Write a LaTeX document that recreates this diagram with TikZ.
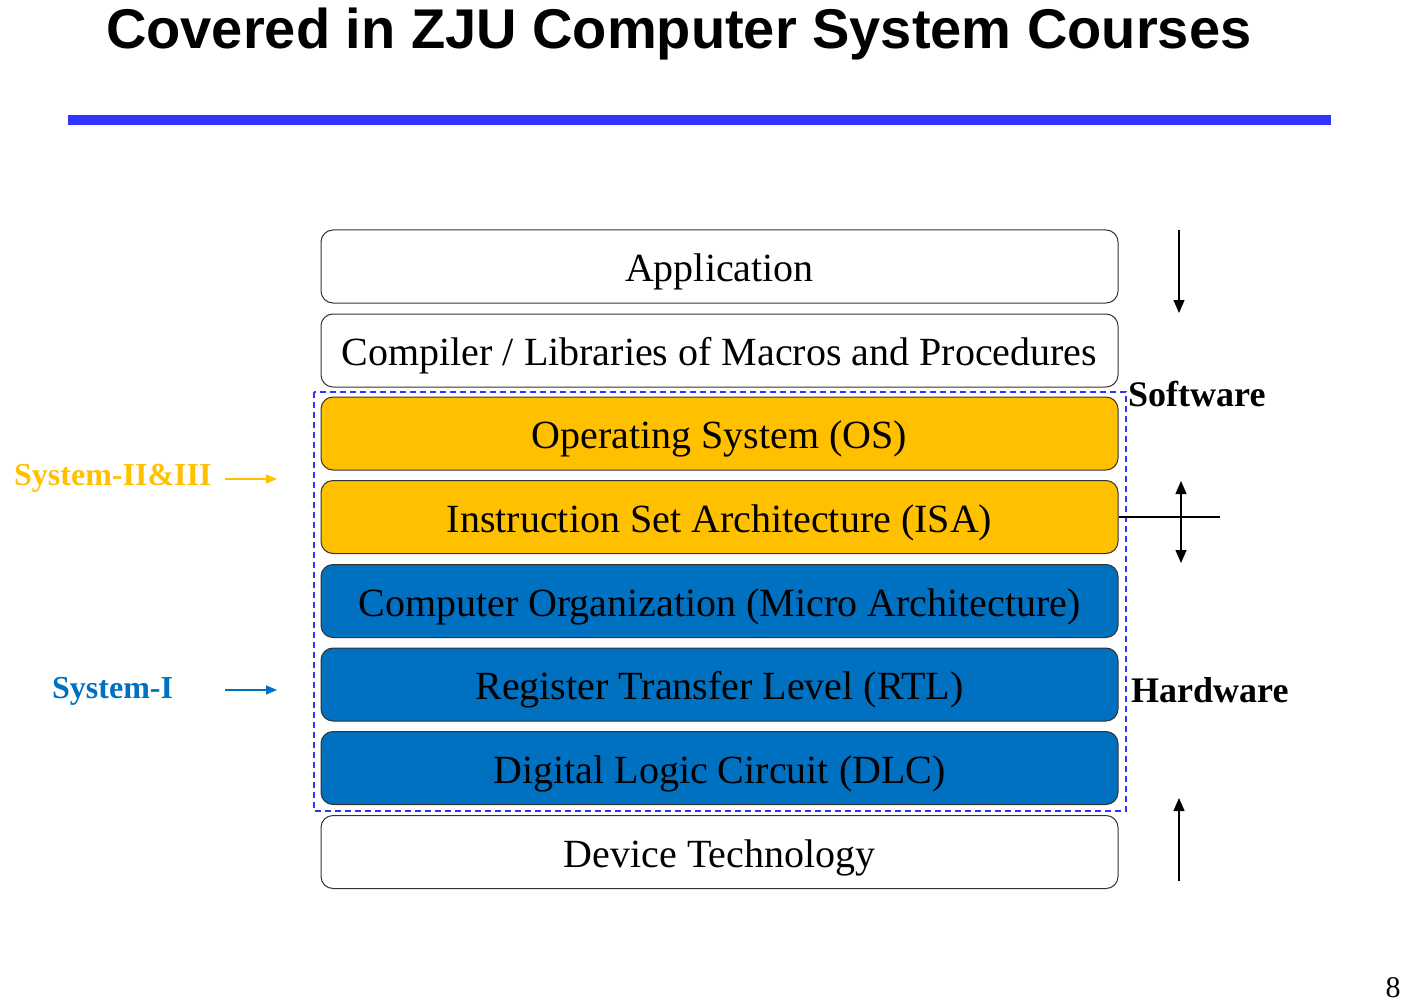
\documentclass[tikz,border=0pt]{standalone}
\usepackage{fontspec}
\setmainfont{Liberation Serif}
\newfontfamily\titlefont{Liberation Sans}
\usetikzlibrary{arrows.meta}
\definecolor{layerorange}{RGB}{255,192,0}
\definecolor{layerblue}{RGB}{0,112,192}
\definecolor{rulecolor}{RGB}{51,51,255}
\begin{document}
\begin{tikzpicture}[x=1pt,y=-1pt,
  layer/.style={draw=black!80, line width=1pt, rounded corners=12pt,
    minimum width=797pt, minimum height=73pt, inner sep=0pt,
    text height=31pt, text depth=1pt,
    font=\fontsize{40}{42}\selectfont},
  plain/.style={layer, fill=white},
  sysab/.style={layer, fill=layerorange},
  sysc/.style={layer, fill=layerblue},
  sidearrow/.style={line width=1.3pt, -{Triangle[length=13pt,width=11pt]}},
  courselabel/.style={font=\fontsize{32}{34}\selectfont\bfseries, anchor=west, inner sep=0pt},
  pointer/.style={line width=1.5pt, -{Triangle[length=11pt,width=9pt]}}]
\useasboundingbox (0,0) rectangle (1407,1008);

% heading and rule
\node[font=\titlefont\fontsize{56}{60}\selectfont\bfseries, anchor=base west, inner sep=0pt]
  (title) at (106,49) {Covered in ZJU Computer System Courses};
\draw[rulecolor, line width=10pt] (68,120) -- (1331,120);

% abstraction layers
\node[plain] (app) at (719.5,266.5) {Application};
\node[plain] (comp) at (719.5,350.5) {Compiler / Libraries of Macros and Procedures};
\node[sysab] (os) at (719.5,433.5) {Operating System (OS)};
\node[sysab] (isa) at (719.5,517) {Instruction Set Architecture (ISA)};
\node[sysc] (co) at (719.5,601) {Computer Organization (Micro Architecture)};
\node[sysc] (rtl) at (719.5,684.5) {Register Transfer Level (RTL)};
\node[sysc] (dlc) at (719.5,768) {Digital Logic Circuit (DLC)};
\node[plain] (dev) at (719.5,852) {Device Technology};

% span of the system courses
\draw[rulecolor, line width=1.6pt, dash pattern=on 6pt off 4pt] (314,392) rectangle (1126,811);

% software / hardware split
\node[font=\fontsize{36}{38}\selectfont\bfseries, anchor=west, inner sep=0pt] (sw) at (1128,394) {Software};
\node[font=\fontsize{36}{38}\selectfont\bfseries, anchor=west, inner sep=0pt] (hw) at (1131,690) {Hardware};

\coordinate (dtop) at (1179,230);
\coordinate (dbot) at (1179,313);
\draw[sidearrow] (dtop) -- (dbot);

\coordinate (splitend) at (1220,517);
\draw[line width=1.3pt] (isa.east) -- (splitend);
\coordinate (mup) at (1181,481);
\coordinate (mdn) at (1181,563);
\draw[sidearrow, {Triangle[length=13pt,width=11pt]}-{Triangle[length=13pt,width=11pt]}] (mup) -- (mdn);

\coordinate (ubot) at (1179,881);
\coordinate (utop) at (1179,798);
\draw[sidearrow] (ubot) -- (utop);

% course labels
\node[courselabel, text=layerorange] (s23) at (14,478) {System-II\&III};
\coordinate (s23a) at (225,479);
\coordinate (s23b) at (277,479);
\draw[pointer, layerorange] (s23a) -- (s23b);

\node[courselabel, text=layerblue] (s1) at (52,691) {System-I};
\coordinate (s1a) at (225,690);
\coordinate (s1b) at (277,690);
\draw[pointer, layerblue] (s1a) -- (s1b);

% page number
\node[font=\fontsize{30}{32}\selectfont, inner sep=0pt] (page) at (1393,988) {8};
\end{tikzpicture}
\end{document}
